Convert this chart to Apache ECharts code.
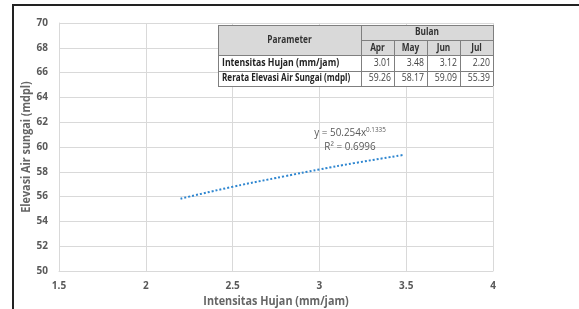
<!DOCTYPE html>
<html><head><meta charset="utf-8">
<script src="https://cdn.jsdelivr.net/npm/echarts@6/dist/echarts.min.js"></script>
<style>html,body{margin:0;padding:0;background:#fff}#c{width:579px;height:309px}</style>
</head><body><div id="c"></div>
<script>
// Table data
const months = ['Apr', 'May', 'Jun', 'Jul'];
const intensitas = [3.01, 3.48, 3.12, 2.20];
const elevasi = [59.26, 58.17, 59.09, 55.39];
// Trend line (power) points
const trendX = [2.2, 2.5, 2.8, 3.0, 3.2, 3.48];
const trendY = [55.83, 56.79, 57.64, 58.19, 58.70, 59.35];
const xTicks = [1.5, 2, 2.5, 3, 3.5, 4];
const yTicks = [50, 52, 54, 56, 58, 60, 62, 64, 66, 68, 70];
const xTitle = 'Intensitas Hujan (mm/jam)';
const yTitle = 'Elevasi Air sungai (mdpl)';

const chart = echarts.init(document.getElementById('c'), null, {renderer: 'canvas'});
const FONT = '"Open Sans"';
const grey = '#595959';

// Table layout
const colX = [218, 361, 394, 427, 460, 493], rowY = [25, 40, 55, 71, 86];
const g = [];
const lineCol = '#7f7f7f';
g.push({type: 'rect', shape: {x: colX[0], y: rowY[0], width: colX[5] - colX[0], height: rowY[2] - rowY[0]}, style: {fill: '#d9d9d9'}, z: 10});
g.push({type: 'rect', shape: {x: colX[0], y: rowY[2], width: colX[5] - colX[0], height: rowY[4] - rowY[2]}, style: {fill: '#fff'}, z: 10});
function hl(x1, x2, y) { g.push({type: 'line', shape: {x1, y1: y, x2, y2: y}, style: {stroke: lineCol, lineWidth: 1}, z: 12}); }
function vl(x, y1, y2) { g.push({type: 'line', shape: {x1: x, y1, x2: x, y2}, style: {stroke: lineCol, lineWidth: 1}, z: 12}); }
hl(colX[0], colX[5], rowY[0] + 0.5);
hl(colX[1], colX[5], rowY[1] + 0.5);
hl(colX[0], colX[5], rowY[2] + 0.5);
hl(colX[0], colX[5], rowY[3] + 0.5);
hl(colX[0], colX[5], rowY[4] + 0.5);
vl(colX[0] + 0.5, rowY[0], rowY[4]);
vl(colX[1] + 0.5, rowY[0], rowY[4]);
for (let i = 2; i < 5; i++) vl(colX[i] + 0.5, rowY[1], rowY[4]);
vl(colX[5] + 0.5, rowY[0], rowY[4]);
function txt(text, x, y, align, bold, color, sx) {
  g.push({type: 'text', x, y, scaleX: sx || 0.83, z: 13, style: {text, fill: color || '#000', font: (bold ? 'bold ' : '') + '10px ' + FONT, textAlign: align, textVerticalAlign: 'middle'}});
}
txt('Parameter', (colX[0] + colX[1]) / 2, (rowY[0] + rowY[2]) / 2, 'center', true, '#333');
txt('Bulan', (colX[1] + colX[5]) / 2, (rowY[0] + rowY[1]) / 2, 'center', true, '#333');
months.forEach((m, i) => txt(m, (colX[i + 1] + colX[i + 2]) / 2, (rowY[1] + rowY[2]) / 2 + 1, 'center', true, '#333'));
txt('Intensitas Hujan (mm/jam)', colX[0] + 4, (rowY[2] + rowY[3]) / 2, 'left', true, '#222', 0.87);
txt('Rerata Elevasi Air Sungai (mdpl)', colX[0] + 4, (rowY[3] + rowY[4]) / 2, 'left', true, '#222', 0.81);
intensitas.forEach((v, i) => txt(v.toFixed(2), colX[i + 2] - 3, (rowY[2] + rowY[3]) / 2, 'right', false, '#444', 0.87));
elevasi.forEach((v, i) => txt(v.toFixed(2), colX[i + 2] - 3, (rowY[3] + rowY[4]) / 2, 'right', false, '#444', 0.87));
// Frame
g.push({type: 'line', shape: {x1: 12, y1: 5, x2: 579, y2: 5}, style: {stroke: '#222', lineWidth: 2}, z: 20});
g.push({type: 'line', shape: {x1: 13, y1: 5, x2: 13, y2: 309}, style: {stroke: '#222', lineWidth: 2}, z: 20});
// Y axis title
g.push({type: 'text', x: 27, y: 147, rotation: Math.PI / 2, scaleX: 0.9, z: 13, style: {
  text: yTitle, font: 'bold 12px ' + FONT, fill: '#666', textAlign: 'center', textVerticalAlign: 'middle'}});
// Equation
g.push({type: 'text', x: 350, y: 133, scaleX: 0.9, z: 13, style: {
  text: '{a|y = 50.254x}{s|0.1335}', textAlign: 'center', textVerticalAlign: 'middle',
  rich: {a: {font: '11px ' + FONT, fill: grey}, s: {font: '7px ' + FONT, fill: grey, verticalAlign: 'top', padding: [0, 0, 6, 0]}}
}});
g.push({type: 'text', x: 350, y: 147, scaleX: 0.9, z: 13, style: {text: 'R² = 0.6996', font: '11px ' + FONT, fill: grey, textAlign: 'center', textVerticalAlign: 'middle'}});

chart.setOption({
  animation: false,
  grid: {left: 59, right: 86, top: 23, bottom: 38, containLabel: false, outerBoundsMode: 'none'},
  xAxis: {
    type: 'value', min: 1.5, max: 4, interval: 0.5,
    axisLine: {show: true, lineStyle: {color: '#d9d9d9'}}, axisTick: {show: false},
    axisLabel: {color: grey, fontFamily: FONT, fontSize: 10, fontWeight: 'bold', margin: 10, formatter: v => String(v)},
    splitLine: {show: true, lineStyle: {color: '#d9d9d9'}}
  },
  yAxis: {
    type: 'value', min: 50, max: 70, interval: 2,
    axisLine: {show: true, lineStyle: {color: '#d9d9d9'}}, axisTick: {show: false},
    axisLabel: {color: grey, fontFamily: FONT, fontSize: 10, fontWeight: 'bold', margin: 11},
    splitLine: {show: true, lineStyle: {color: '#d9d9d9'}}
  },
  series: [{
    type: 'line', data: trendX.map((x, i) => [x, trendY[i]]), smooth: true, showSymbol: false,
    lineStyle: {color: '#2e86d0', width: 2, type: [2, 2]}
  }],
  graphic: g.concat([{type: 'text', x: 276, y: 302, scaleX: 0.9, z: 13, style: {
    text: xTitle, font: 'bold 12px ' + FONT, fill: '#666', textAlign: 'center', textVerticalAlign: 'middle'}}])
});
</script></body></html>
